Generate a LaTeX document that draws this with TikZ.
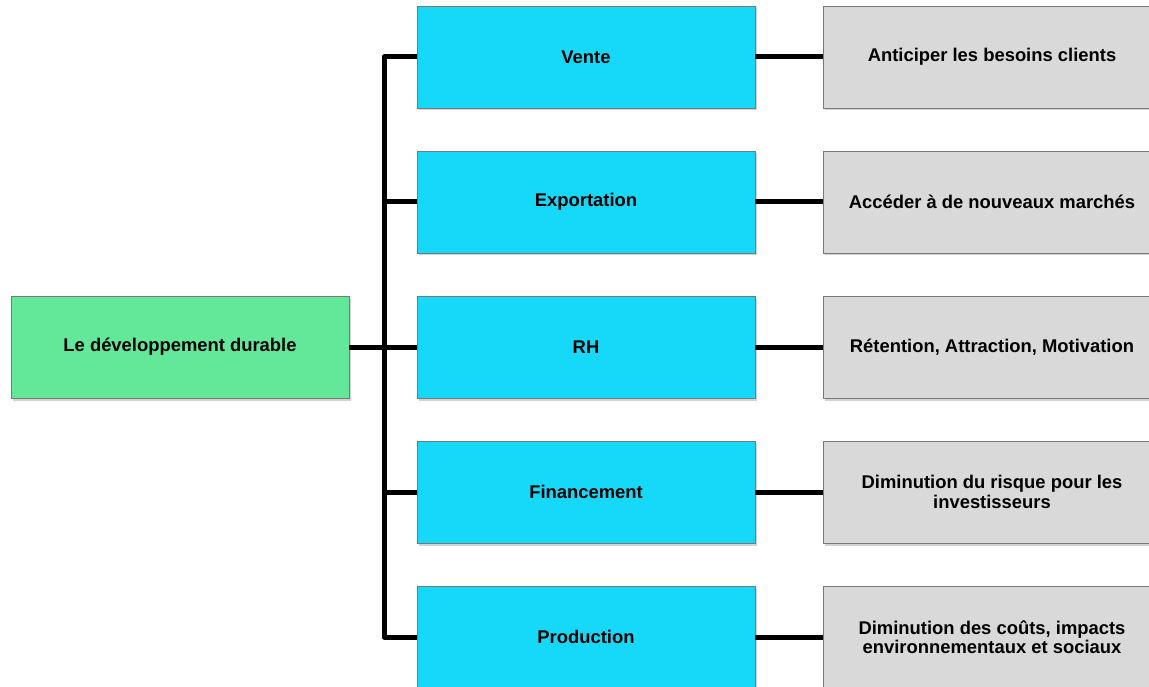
\documentclass[tikz,border=0pt]{standalone}
\usepackage{fontspec}
\setmainfont{Liberation Sans}
\usetikzlibrary{shadows}
\definecolor{greenbox}{RGB}{98,232,152}
\definecolor{bluebox}{RGB}{22,217,250}
\definecolor{graybox}{RGB}{217,217,217}
\definecolor{edgegray}{RGB}{120,120,120}
\tikzset{
  box/.style={draw=edgegray, line width=0.8pt, minimum width=338pt, minimum height=102pt,
    inner sep=1pt, align=center, font=\fontsize{18.4}{19.5}\selectfont\bfseries,
    drop shadow={opacity=0.35, shadow xshift=1.5pt, shadow yshift=-2.5pt}},
  greenb/.style={box, fill=greenbox},
  blueb/.style={box, fill=bluebox},
  grayb/.style={box, fill=graybox},
  conn/.style={line width=5pt, black, line join=round, line cap=butt}
}
\begin{document}
\begin{tikzpicture}[x=1pt,y=-1pt]
\useasboundingbox (0,0) rectangle (1149,687);
\clip (0,0) rectangle (1149,687);
\node[greenb] (g) at (180,347) {Le développement durable};
\node[blueb] (b1) at (586,57) {Vente};
\node[blueb] (b2) at (586,202) {Exportation};
\node[blueb] (b3) at (586,347) {RH};
\node[blueb] (b4) at (586,492) {Financement};
\node[blueb] (b5) at (586,637) {Production};
\node[grayb] (r1) at (992,57) {Anticiper les besoins clients};
\node[grayb] (r2) at (992,202) {Accéder à de nouveaux marchés};
\node[grayb] (r3) at (992,347) {Rétention, Attraction, Motivation};
\node[grayb] (r4) at (992,492) {Diminution du risque pour les\\investisseurs};
\node[grayb] (r5) at (992,637) {Diminution des coûts, impacts\\environnementaux et sociaux};
\coordinate (j) at (384,347);
\draw[conn] (b1.west) -- (b1.west -| j) -- (b5.west -| j) -- (b5.west);
\draw[conn] (g.east) -- (j) -- (b3.west);
\draw[conn] (b2.west -| j) -- (b2.west);
\draw[conn] (b4.west -| j) -- (b4.west);
\draw[conn] (b1.east) -- (r1.west);
\draw[conn] (b2.east) -- (r2.west);
\draw[conn] (b3.east) -- (r3.west);
\draw[conn] (b4.east) -- (r4.west);
\draw[conn] (b5.east) -- (r5.west);
\end{tikzpicture}
\end{document}
